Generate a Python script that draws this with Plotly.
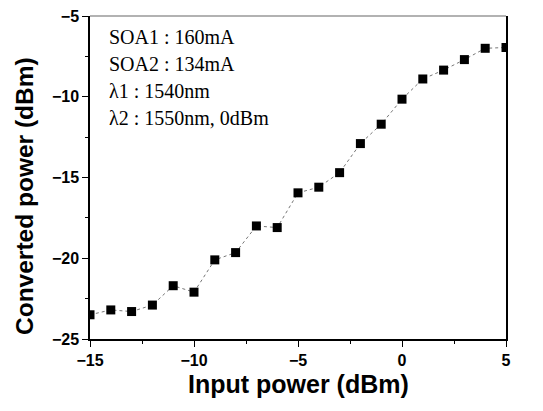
import plotly.graph_objects as go

# ---------- data ----------
input_power = [-15, -14, -13, -12, -11, -10, -9, -8, -7, -6, -5, -4, -3, -2, -1, 0, 1, 2, 3, 4, 5]
converted_power = [-23.5, -23.2, -23.3, -22.9, -21.7, -22.1, -20.1, -19.65, -18.0, -18.1,
                   -15.95, -15.6, -14.7, -12.9, -11.7, -10.15, -8.9, -8.35, -7.7, -7.0, -6.95]
notes = ["SOA1 : 160mA", "SOA2 : 134mA", "λ1 : 1540nm", "λ2 : 1550nm, 0dBm"]
x_title = "Input power (dBm)"
y_title = "Converted power (dBm)"

SANS = "Liberation Sans, Arial"
SERIF = "Liberation Serif, Times New Roman"

fig = go.Figure()
fig.add_trace(go.Scatter(
    x=input_power, y=converted_power, mode="lines+markers",
    line=dict(color="#777", width=1, dash="dot"),
    marker=dict(symbol="square", size=9, color="black"),
    showlegend=False,
))

axis_common = dict(
    showline=True, linecolor="black", linewidth=1.5,
    ticks="outside", ticklen=6, tickwidth=1.2, tickcolor="black",
    showgrid=False, zeroline=False, automargin=False,
    tickfont=dict(family=SANS, size=16, color="black", weight="bold"),
    minor=dict(ticks="outside", ticklen=3, tickcolor="black", tickwidth=1),
)

fig.update_xaxes(range=[-15, 5], dtick=5, minor_dtick=2.5, mirror=False, **axis_common)
fig.update_yaxes(range=[-25, -5], dtick=5, minor_dtick=2.5, mirror=True, **axis_common)

# top frame line is lighter in the scan
fig.add_shape(type="line", xref="paper", yref="paper", x0=0, x1=1, y0=1, y1=1,
              line=dict(color="#666", width=1.2))

# axis titles
fig.add_annotation(text=x_title, xref="paper", yref="paper", x=0.5, y=-0.14,
                   xanchor="center", yanchor="middle", showarrow=False, borderpad=0,
                   font=dict(family=SANS, size=25, color="black", weight="bold"))
fig.add_annotation(text=y_title, xref="paper", yref="paper", x=-0.156, y=0.443,
                   xanchor="center", yanchor="middle", showarrow=False, textangle=-90,
                   borderpad=0,
                   font=dict(family=SANS, size=24.5, color="black", weight="bold"))

# condition notes
for i, line in enumerate(notes):
    fig.add_annotation(
        text=line, xref="paper", yref="paper", x=0.041, y=0.935 - i * 0.084,
        xanchor="left", yanchor="middle", align="left", showarrow=False,
        font=dict(family=SERIF, size=20, color="black"),
    )

fig.update_layout(
    width=543, height=411,
    margin=dict(l=90, r=37, t=16, b=72),
    paper_bgcolor="white", plot_bgcolor="white",
)

# drop the default 8px page margin so the figure sits flush in the window
fig.write_html("out.html", config={"displayModeBar": False},
               post_script="document.body.style.margin='0';")
